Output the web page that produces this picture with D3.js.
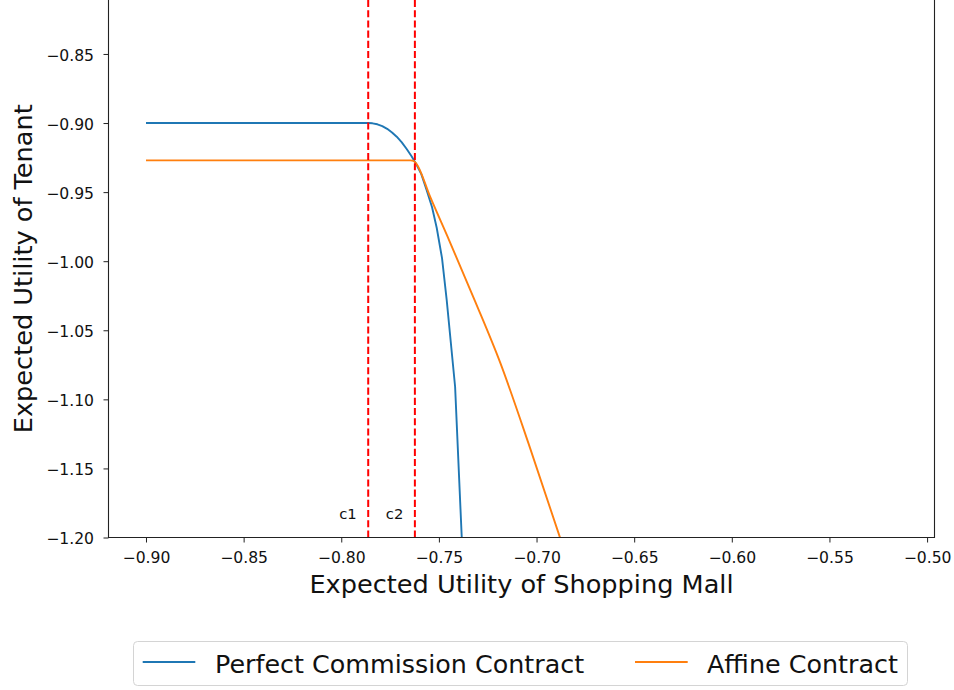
<!DOCTYPE html>
<html>
<head>
<meta charset="utf-8">
<script src="https://cdn.jsdelivr.net/npm/d3@7"></script>
<style>
  html, body { margin: 0; padding: 0; background: #fff; }
  svg { display: block; font-family: "DejaVu Sans", sans-serif; }
</style>
</head>
<body>
<svg id="chart" width="954" height="690"></svg>
<script>
// Perfect commission contract frontier
const commissionX = [-0.900, -0.790, -0.7862, -0.7840, -0.7815, -0.7790, -0.7765, -0.7740, -0.7716, -0.7690, -0.7665, -0.7640, -0.7615, -0.7590, -0.7563, -0.7535, -0.7511, -0.7484, -0.7460, -0.7417, -0.7383];
const commissionY = [-0.900, -0.900, -0.900, -0.9002, -0.9009, -0.9022, -0.9042, -0.9068, -0.9099, -0.9140, -0.9188, -0.9240, -0.9300, -0.9370, -0.9485, -0.9610, -0.9760, -0.9978, -1.0282, -1.0909, -1.200];

// Affine contract frontier
const affineX = [-0.900, -0.7645, -0.7630, -0.7615, -0.7545, -0.7448, -0.7315, -0.7187, -0.7033, -0.6880];
const affineY = [-0.927, -0.927, -0.9274, -0.9295, -0.9533, -0.9847, -1.0289, -1.0731, -1.1353, -1.200];

// Thresholds c1 and c2
const thresholdNames = ["c1", "c2"];
const thresholdValues = [-0.7862, -0.7623];

const xTicks = [-0.90, -0.85, -0.80, -0.75, -0.70, -0.65, -0.60, -0.55, -0.50];
const yTicks = [-1.20, -1.15, -1.10, -1.05, -1.00, -0.95, -0.90, -0.85];

const seriesNames = ["Perfect Commission Contract", "Affine Contract"];
const seriesColors = ["#1f77b4", "#ff7f0e"];

const svg = d3.select("#chart");

const plotLeft = 108.5, plotRight = 934.5, plotTop = -1.3, plotBottom = 537.5;
const x = d3.scaleLinear().domain([-0.9192, -0.4962]).range([plotLeft, plotRight]);
const y = d3.scaleLinear().domain([-1.20, -0.81]).range([plotBottom, plotTop]);

const fmt = v => d3.format(".2f")(v).replace("-", "\u2212");

svg.append("defs").append("clipPath").attr("id", "plotClip")
  .append("rect").attr("x", plotLeft).attr("y", plotTop)
  .attr("width", plotRight - plotLeft).attr("height", plotBottom - plotTop);

const plot = svg.append("g").attr("clip-path", "url(#plotClip)");

const series = [
  { pts: d3.zip(commissionX, commissionY), curve: d3.curveLinear },
  { pts: d3.zip(affineX, affineY), curve: d3.curveMonotoneX }
];

series.forEach((s, i) => {
  const line = d3.line().x(d => x(d[0])).y(d => y(d[1])).curve(s.curve);
  plot.append("path")
    .datum(s.pts)
    .attr("d", line)
    .attr("fill", "none")
    .attr("stroke", seriesColors[i])
    .attr("stroke-width", 1.9)
    .attr("stroke-linejoin", "round");
});

// vertical dashed threshold lines, dash pattern starting at the bottom
thresholdValues.forEach((c, i) => {
  plot.append("line")
    .attr("x1", x(c)).attr("x2", x(c))
    .attr("y1", plotBottom).attr("y2", plotTop)
    .attr("stroke", "#ff0000")
    .attr("stroke-width", 2)
    .attr("stroke-dasharray", "7.1,3.1");
  svg.append("text")
    .attr("x", x(c) - 11.5)
    .attr("y", 519)
    .attr("text-anchor", "end")
    .attr("font-size", 14.8)
    .attr("fill", "#111")
    .text(thresholdNames[i]);
});

// axes
const xAxis = svg.append("g")
  .attr("transform", `translate(0,${plotBottom})`)
  .call(d3.axisBottom(x).tickValues(xTicks).tickFormat(fmt).tickSize(5).tickPadding(9).tickSizeOuter(0));
const yAxis = svg.append("g")
  .attr("transform", `translate(${plotLeft},0)`)
  .call(d3.axisLeft(y).tickValues(yTicks).tickFormat(fmt).tickSize(5).tickPadding(9.5).tickSizeOuter(0));

[xAxis, yAxis].forEach(g => {
  g.select(".domain").remove();
  g.selectAll(".tick line").attr("stroke", "#222").attr("stroke-width", 1);
  g.selectAll(".tick text")
    .attr("font-size", 15.6)
    .attr("font-family", "DejaVu Sans")
    .attr("fill", "#111");
});
yAxis.selectAll(".tick text").attr("dy", "0.4em");

// spines
const spines = svg.append("g").attr("stroke", "#222").attr("stroke-width", 1.1).attr("fill", "none");
spines.append("line").attr("x1", plotLeft).attr("x2", plotLeft).attr("y1", plotTop).attr("y2", plotBottom + 0.5);
spines.append("line").attr("x1", plotRight).attr("x2", plotRight).attr("y1", plotTop).attr("y2", plotBottom + 0.5);
spines.append("line").attr("x1", plotLeft).attr("x2", plotRight).attr("y1", plotBottom).attr("y2", plotBottom);
spines.append("line").attr("x1", plotLeft).attr("x2", plotRight).attr("y1", plotTop).attr("y2", plotTop);

// axis titles
svg.append("text")
  .attr("x", (plotLeft + plotRight) / 2)
  .attr("y", 593)
  .attr("text-anchor", "middle")
  .attr("font-size", 25.6)
  .attr("fill", "#111")
  .text("Expected Utility of Shopping Mall");

svg.append("text")
  .attr("transform", `translate(32,${plotBottom / 2}) rotate(-90)`)
  .attr("text-anchor", "middle")
  .attr("font-size", 25.6)
  .attr("fill", "#111")
  .text("Expected Utility of Tenant");

// legend
const legend = svg.append("g");
legend.append("rect")
  .attr("x", 133.5).attr("y", 641.5)
  .attr("width", 774).attr("height", 44)
  .attr("rx", 4).attr("ry", 4)
  .attr("fill", "#fff")
  .attr("stroke", "#d4d4d4")
  .attr("stroke-width", 1);

const legendItems = [
  { x1: 142.7, x2: 195.3, tx: 215 },
  { x1: 635, x2: 687.7, tx: 707 }
];
legendItems.forEach((it, i) => {
  legend.append("line")
    .attr("x1", it.x1).attr("x2", it.x2)
    .attr("y1", 662).attr("y2", 662)
    .attr("stroke", seriesColors[i])
    .attr("stroke-width", 1.9);
  legend.append("text")
    .attr("x", it.tx).attr("y", 672.5)
    .attr("font-size", 25.4)
    .attr("fill", "#111")
    .text(seriesNames[i]);
});
</script>
</body>
</html>
